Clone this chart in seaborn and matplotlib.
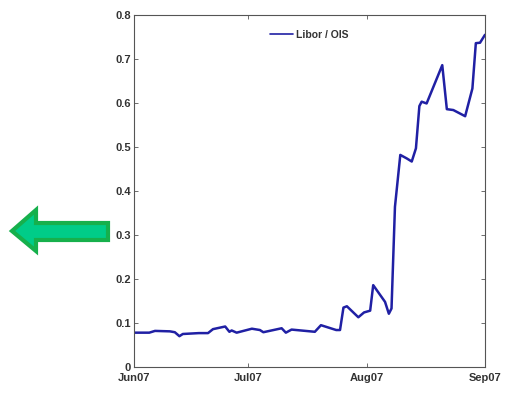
import matplotlib
matplotlib.use("Agg")
import matplotlib.pyplot as plt
import matplotlib.dates as mdates
from matplotlib.patches import Polygon
import pandas as pd
import seaborn as sns

# Libor / OIS spread, summer 2007 (days counted from 1 June 2007)
start = "2007-06-01"
day_offset = [
    0, 4, 5.5, 9.4, 10.7, 11.9, 12.8, 17, 19.4, 20.7,
    23.9, 25, 25.6, 26.9, 30.9, 33, 33.9, 38.7, 39.8, 41.3,
    47.4, 49, 53, 54, 54.9, 55.8, 58.8, 60.3, 61.9, 62.7,
    65.8, 66.8, 67.5, 68.4, 69.8, 71.5, 72.8, 73.9, 74.8, 75.4,
    76.7, 80.8, 82, 83.7, 86.8, 88.7, 89.6, 90.7, 92,
]
spread = [
    0.078, 0.078, 0.082, 0.081, 0.079, 0.070, 0.075, 0.077, 0.077, 0.086,
    0.092, 0.080, 0.083, 0.078, 0.087, 0.084, 0.079, 0.088, 0.078, 0.085,
    0.080, 0.095, 0.084, 0.084, 0.135, 0.138, 0.113, 0.124, 0.128, 0.186,
    0.148, 0.121, 0.133, 0.364, 0.482, 0.474, 0.467, 0.497, 0.593, 0.603,
    0.599, 0.686, 0.586, 0.584, 0.570, 0.633, 0.736, 0.737, 0.755,
]
y_ticks = [0, 0.1, 0.2, 0.3, 0.4, 0.5, 0.6, 0.7, 0.8]
x_ticks = ["2007-06-01", "2007-07-01", "2007-08-01", "2007-09-01"]

df = pd.DataFrame({
    "date": pd.Timestamp(start) + pd.to_timedelta(day_offset, unit="D"),
    "spread": spread,
})

sns.set_style("ticks")
plt.rcParams["font.family"] = ["Liberation Sans", "DejaVu Sans"]

fig = plt.figure(figsize=(5.08, 3.93), dpi=100)
ax = fig.add_axes([0.2638, 0.0662, 0.6909, 0.8956])

sns.lineplot(data=df, x="date", y="spread", ax=ax, color="#2020a4",
             linewidth=1.8, label="Libor / OIS")

ax.set_xlim(pd.Timestamp(x_ticks[0]), pd.Timestamp(x_ticks[-1]))
ax.set_ylim(0, 0.8)
ax.set_xticks(pd.to_datetime(x_ticks))
ax.xaxis.set_major_formatter(mdates.DateFormatter("%b%y"))
ax.set_yticks(y_ticks)
ax.set_yticklabels(["0"] + [f"{v:.1f}" for v in y_ticks[1:]])
ax.set_xlabel("")
ax.set_ylabel("")

for side in ["left", "right", "top", "bottom"]:
    ax.spines[side].set_visible(True)
    ax.spines[side].set_color("#555555")
    ax.spines[side].set_linewidth(0.8)
ax.tick_params(direction="in", length=3, width=0.6, color="#555555",
               top=True, right=True, labelsize=8, labelcolor="#333333")
for lab in ax.get_xticklabels() + ax.get_yticklabels():
    lab.set_fontweight("bold")
ax.tick_params(axis="x", pad=4)
ax.tick_params(axis="y", pad=2)

leg = ax.legend(loc="upper center", bbox_to_anchor=(0.5, 0.985), frameon=False,
                fontsize=7.5, handlelength=2.2, handletextpad=0.3)
for t in leg.get_texts():
    t.set_fontweight("bold")
    t.set_color("#333333")
for h in leg.get_lines():
    h.set_linewidth(1.2)

# green arrow pointing left, drawn in figure pixel space
W, H = 508, 393
pts = [(12, 231), (36, 210), (36, 223), (108, 223), (108, 240), (36, 240), (36, 251)]
arrow = Polygon([(x / W, 1 - y / H) for x, y in pts], closed=True,
                transform=fig.transFigure, facecolor="#00cc88",
                edgecolor="#16b04c", linewidth=3, joinstyle="miter")
fig.patches.append(arrow)

fig.savefig("out.png", dpi=100)
